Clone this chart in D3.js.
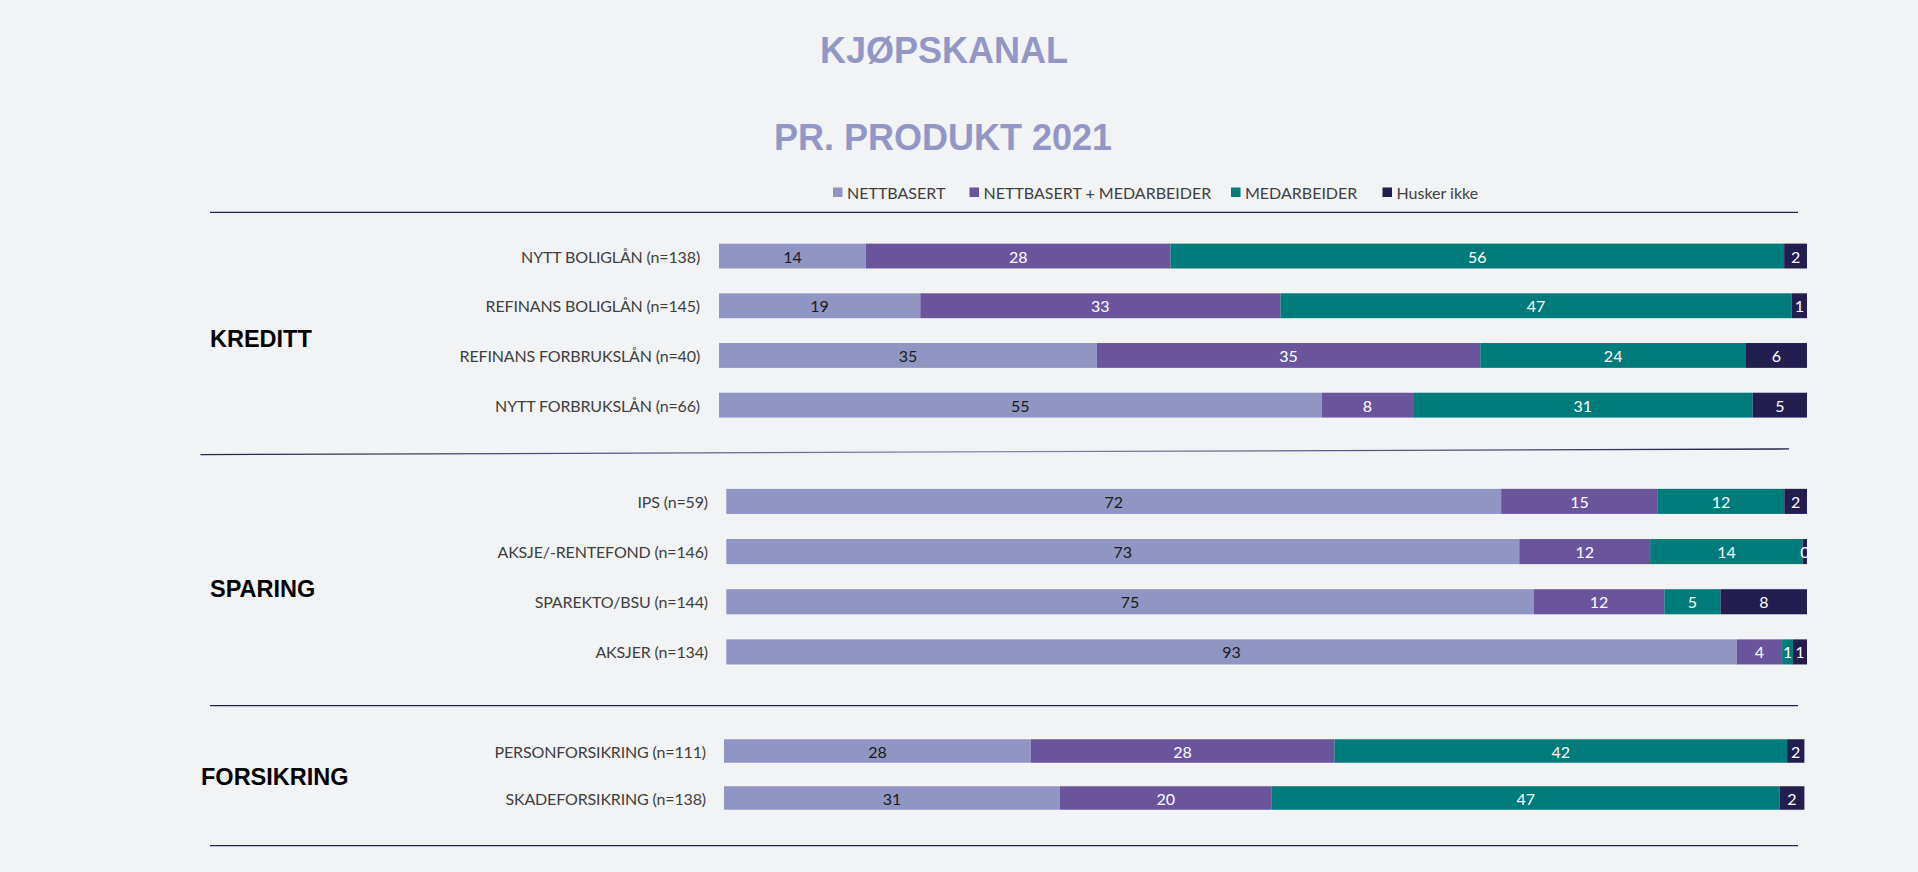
<!DOCTYPE html>
<html>
<head>
<meta charset="utf-8">
<script src="https://cdn.jsdelivr.net/npm/d3@7"></script>
<style>
  html, body { margin: 0; padding: 0; background: #f2f3f5; }
  svg { display: block; }
  .cat { font-family: Lato, "Open Sans", sans-serif; font-size: 16px; fill: #404040; letter-spacing: -0.15px; }
  .val { font-family: Lato, "Open Sans", sans-serif; font-size: 16px; }
  .grp { font-family: "Liberation Sans", Arial, sans-serif; font-weight: bold; font-size: 23.5px; fill: #000; }
  .title { font-family: "Liberation Sans", Arial, sans-serif; font-weight: bold; font-size: 36px; fill: #9397c5; }
  .leg { font-family: Lato, "Open Sans", sans-serif; font-size: 16px; fill: #404040; }
</style>
</head>
<body>
<svg width="1918" height="872"></svg>
<script>
const svg = d3.select("svg");
const width = +svg.attr("width");
const height = +svg.attr("height");

// Series and colours
const seriesNames = ["NETTBASERT", "NETTBASERT + MEDARBEIDER", "MEDARBEIDER", "Husker ikke"];
const seriesColors = ["#9095c3", "#6a559d", "#007b7b", "#231d50"];
const labelColors = ["#1a1a1a", "#ffffff", "#ffffff", "#ffffff"];

// Groups and rows
const groupNames = ["KREDITT", "SPARING", "FORSIKRING"];
const kredittRows = ["NYTT BOLIGLÅN (n=138)", "REFINANS BOLIGLÅN (n=145)", "REFINANS FORBRUKSLÅN (n=40)", "NYTT FORBRUKSLÅN (n=66)"];
const sparingRows = ["IPS (n=59)", "AKSJE/-RENTEFOND (n=146)", "SPAREKTO/BSU (n=144)", "AKSJER (n=134)"];
const forsikringRows = ["PERSONFORSIKRING (n=111)", "SKADEFORSIKRING (n=138)"];

// Shares (%) per series, in row order; labels show them rounded
const kredittNett      = [13.5, 18.5, 34.7, 55.4];
const kredittNettMed   = [28.0, 33.1, 35.2, 8.4];
const kredittMed       = [56.4, 47.0, 24.4, 31.2];
const kredittHusker    = [2.1, 1.4, 5.6, 5.0];

const sparingNett      = [71.7, 73.3, 74.7, 93.4];
const sparingNettMed   = [14.5, 12.1, 12.1, 4.2];
const sparingMed       = [11.7, 14.1, 5.2, 1.0];
const sparingHusker    = [2.1, 0.4, 8.0, 1.3];

const forsikringNett    = [28.4, 31.1];
const forsikringNettMed = [28.1, 19.6];
const forsikringMed     = [41.9, 47.0];
const forsikringHusker  = [1.6, 2.3];

// Layout per group
const groups = [
  { name: groupNames[0], rows: kredittRows, cols: [kredittNett, kredittNettMed, kredittMed, kredittHusker],
    x0: 719, x1: 1807, y0: 231.2, y1: 430, labelX: 700, nameX: 210, nameY: 339 },
  { name: groupNames[1], rows: sparingRows, cols: [sparingNett, sparingNettMed, sparingMed, sparingHusker],
    x0: 726.3, x1: 1807, y0: 476.3, y1: 677, labelX: 708, nameX: 210, nameY: 589 },
  { name: groupNames[2], rows: forsikringRows, cols: [forsikringNett, forsikringNettMed, forsikringMed, forsikringHusker],
    x0: 724, x1: 1804.4, y0: 727.5, y1: 821.5, labelX: 706, nameX: 201, nameY: 777 }
];

// Title
svg.append("text").attr("class", "title").attr("x", 944).attr("y", 63)
  .attr("text-anchor", "middle").text("KJØPSKANAL");
svg.append("text").attr("class", "title").attr("x", 943).attr("y", 150)
  .attr("text-anchor", "middle").text("PR. PRODUKT 2021");

// Legend
const legendX = [833, 969.5, 1231, 1382.5];
const legend = svg.append("g");
seriesNames.forEach((name, i) => {
  legend.append("rect").attr("x", legendX[i]).attr("y", 187.5)
    .attr("width", 9.5).attr("height", 9.5).attr("fill", seriesColors[i]);
  legend.append("text").attr("class", "leg").attr("x", legendX[i] + 14).attr("y", 192.5)
    .attr("dominant-baseline", "central").text(name);
});

// Separator lines
const defs = svg.append("defs");
const grad = defs.append("linearGradient").attr("id", "sepGrad")
  .attr("x1", "0%").attr("x2", "100%");
grad.append("stop").attr("offset", "0%").attr("stop-color", "#22224a");
grad.append("stop").attr("offset", "50%").attr("stop-color", "#8a8aa4");
grad.append("stop").attr("offset", "100%").attr("stop-color", "#22224a");

svg.append("line").attr("x1", 210).attr("x2", 1798).attr("y1", 212.3).attr("y2", 212.3)
  .attr("stroke", "#22224a").attr("stroke-width", 1.3);
svg.append("path").attr("d", "M200.5,454 L1789,448.3 L1789,449.6 L200.5,455.3 Z")
  .attr("fill", "url(#sepGrad)");
svg.append("line").attr("x1", 210).attr("x2", 1798).attr("y1", 705.7).attr("y2", 705.7)
  .attr("stroke", "#22224a").attr("stroke-width", 1.3);
svg.append("line").attr("x1", 210).attr("x2", 1798).attr("y1", 845.7).attr("y2", 845.7)
  .attr("stroke", "#22224a").attr("stroke-width", 1.3);

// Bars
const fmt = d3.format(".0f");
groups.forEach((g, gi) => {
  const table = g.rows.map((r, i) => {
    const o = { row: r };
    seriesNames.forEach((s, k) => { o[s] = g.cols[k][i]; });
    return o;
  });
  const stacked = d3.stack().keys(seriesNames).offset(d3.stackOffsetExpand)(table);

  const x = d3.scaleLinear().domain([0, 1]).range([g.x0, g.x1]);
  const y = d3.scaleBand().domain(g.rows).range([g.y0, g.y1])
    .paddingInner(0.5).paddingOuter(0.25);

  defs.append("clipPath").attr("id", "clip" + gi).append("rect")
    .attr("x", g.x0).attr("y", g.y0).attr("width", g.x1 - g.x0).attr("height", g.y1 - g.y0);

  const gg = svg.append("g");

  // Category labels
  gg.selectAll(".cat").data(g.rows).join("text")
    .attr("class", "cat")
    .attr("x", g.labelX)
    .attr("y", d => y(d) + y.bandwidth() / 2)
    .attr("text-anchor", "end")
    .attr("dominant-baseline", "central")
    .text(d => d);

  const layers = gg.selectAll(".layer").data(stacked).join("g")
    .attr("class", "layer")
    .attr("fill", (d, i) => seriesColors[i]);

  layers.selectAll("rect").data(d => d).join("rect")
    .attr("x", d => x(d[0]))
    .attr("y", d => y(d.data.row))
    .attr("width", d => x(d[1]) - x(d[0]))
    .attr("height", y.bandwidth());

  const labels = gg.append("g").attr("clip-path", "url(#clip" + gi + ")");
  stacked.forEach((layer, k) => {
    labels.selectAll(".v" + k).data(layer).join("text")
      .attr("class", "val v" + k)
      .attr("x", d => (x(d[0]) + x(d[1])) / 2)
      .attr("y", d => y(d.data.row) + y.bandwidth() / 2)
      .attr("text-anchor", "middle")
      .attr("dominant-baseline", "central")
      .attr("fill", labelColors[k])
      .text(d => fmt(d.data[layer.key]));
  });

  // Group name
  svg.append("text").attr("class", "grp")
    .attr("x", g.nameX).attr("y", g.nameY)
    .attr("dominant-baseline", "central")
    .text(g.name);
});
</script>
</body>
</html>
